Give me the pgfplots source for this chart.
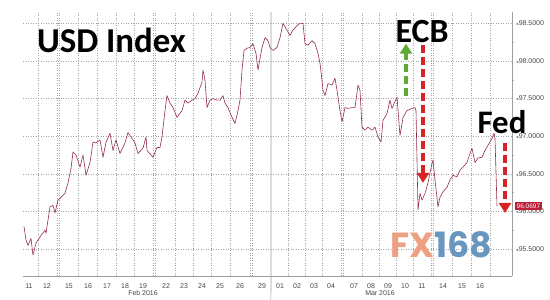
\documentclass[border=0pt]{standalone}
\usepackage{pgfplots}
\pgfplotsset{compat=1.18}
\usepackage{fontspec}
\setmainfont{Liberation Sans}
\newfontfamily\carlito{Carlito Bold}
\newfontfamily\dejavu{DejaVu Sans}
\newfontfamily\poppins{Poppins Bold}
\usetikzlibrary{arrows.meta}
\definecolor{linecol}{RGB}{150,45,70}
\definecolor{gridcol}{RGB}{165,165,165}
\definecolor{ecbgreen}{RGB}{95,170,55}
\definecolor{arrred}{RGB}{215,35,35}
\definecolor{boxred}{RGB}{190,30,55}
\definecolor{fxorange}{RGB}{238,160,130}
\definecolor{fxblue}{RGB}{105,150,190}
\definecolor{labcol}{RGB}{70,70,70}
\begin{document}
\begin{tikzpicture}
\useasboundingbox (0,0) rectangle (550bp,300bp);
\begin{axis}[
  at={(23bp,24bp)}, anchor=south west,
  scale only axis, width=489bp, height=264bp,
  xmin=23, xmax=512, ymin=95.14, ymax=98.65,
  axis x line*=bottom, axis y line*=right,
  axis line style={-, draw=gray!75, line width=0.6bp},
  clip=false,
  xtick={38,57,59,78.5,97.5,116,134,153.5,155.5,175,193,211,230,250,252,288.5,305.5,322.5,341.5,343.5,362.5,379.5,396.5,413.5,431.5,433.5,452.5,471,490},
  xticklabels={},
  xmajorgrids, ymajorgrids,
  major grid style={gridcol, line width=0.45bp, dash pattern=on 1bp off 1.5bp},
  x tick style={draw=none},
  extra x ticks={29,47,69,88,107,125,143,166,184,202,220,240,262,280,297,314,331,354,371,388,405,422,443,462,480},
  extra x tick labels={11,12,15,16,17,18,19,22,23,24,25,26,29,01,02,03,04,07,08,09,10,11,14,15,16},
  extra x tick style={grid=none, tick style={draw=none}},
  x tick label style={font=\fontsize{7}{8}\selectfont, text=labcol},
  ytick={95.5,96,96.5,97,97.5,98,98.5},
  minor y tick num=1,
  tick align=outside,
  major y tick style={draw=none},
  minor y tick style={draw=gray!70, line width=0.4bp},
  minor tick length=2bp,
  /pgf/number format/assume math mode=true,
  yticklabel={{\dejavu\fontsize{4}{4}\selectfont ▸}\pgfmathprintnumber[fixed,fixed zerofill,precision=4]{\tick}},
  y tick label style={font=\fontsize{7}{8}\selectfont, text=labcol, xshift=-3bp},
]
\node[inner sep=0, font=\poppins\fontsize{35}{35}\selectfont] at (axis cs:441,95.55) {\textcolor{fxorange}{FX}\textcolor{fxblue}{168}};
\draw[gray!75, line width=0.6bp] (axis cs:271,98.65) -- (axis cs:271,95.14) -- ++(0,-24bp);
\addplot[linecol, line width=0.6bp, line join=round] table[row sep=\\] {
t v\\
24 95.80\\ 26 95.62\\ 28 95.55\\ 31 95.64\\ 33 95.42\\ 36 95.58\\ 41 95.68\\ 45 95.75\\
46 95.71\\ 50 96.06\\ 53 96.08\\ 55 95.98\\ 58 96.15\\ 61 96.19\\ 65 96.24\\ 68 96.38\\
71 96.57\\ 73 96.79\\ 76 96.75\\ 80 96.59\\ 83 96.75\\ 86 96.48\\ 90 96.65\\ 93 96.92\\
96 96.91\\ 100 96.95\\ 103 96.72\\ 106 96.92\\ 110 97.04\\ 113 96.81\\ 116 96.95\\ 120 96.77\\
125 96.91\\ 128 97.05\\ 131 96.99\\ 135 96.91\\ 138 96.77\\ 143 96.84\\ 146 96.99\\ 147 96.81\\
153 96.72\\ 157 96.85\\ 160 96.85\\ 162 96.99\\ 165 97.34\\ 167 97.54\\ 170 97.44\\ 173 97.38\\
177 97.25\\ 182 97.34\\ 185 97.48\\ 188 97.44\\ 192 97.48\\ 195 97.50\\ 198 97.57\\ 202 97.72\\
203 97.88\\ 205 97.74\\ 207 97.38\\ 210 97.48\\ 213 97.50\\ 217 97.48\\ 220 97.48\\ 223 97.54\\
225 97.44\\ 228 97.38\\ 232 97.25\\ 235 97.17\\ 238 97.34\\ 240 97.48\\ 242 97.88\\ 244 98.14\\
247 98.17\\ 250 98.18\\ 253 98.23\\ 256 98.10\\ 258 97.88\\ 262 98.18\\ 265 98.31\\ 268 98.27\\
270 98.18\\ 273 98.14\\ 277 98.18\\ 280 98.31\\ 283 98.50\\ 287 98.41\\ 290 98.34\\ 293 98.41\\
297 98.47\\ 300 98.50\\ 303 98.50\\ 305 98.23\\ 308 98.21\\ 312 98.27\\ 315 98.23\\ 318 98.10\\
320 97.97\\ 322 97.74\\ 323 97.61\\ 325 97.54\\ 328 97.70\\ 332 97.68\\ 335 97.77\\ 337 97.61\\
340 97.34\\ 342 97.19\\ 345 97.38\\ 348 97.37\\ 352 97.38\\ 355 97.38\\ 358 97.68\\ 360 97.61\\
362 97.12\\ 365 97.08\\ 368 97.12\\ 372 97.08\\ 375 97.12\\ 378 96.99\\ 381 96.92\\ 383 97.21\\
387 97.30\\ 390 97.48\\ 392 97.37\\ 397 97.52\\ 400 97.01\\ 403 97.25\\ 407 97.34\\ 412 97.37\\
415 97.38\\ 416 97.34\\ 418 96.02\\ 420 96.24\\ 422 96.15\\ 425 96.24\\ 428 96.38\\ 432 96.64\\
433 96.68\\ 435 96.42\\ 438 96.06\\ 440 96.19\\ 443 96.26\\ 447 96.32\\ 450 96.42\\ 453 96.48\\
457 96.46\\ 460 96.55\\ 463 96.59\\ 467 96.65\\ 470 96.77\\ 472 96.84\\ 475 96.65\\ 478 96.71\\
482 96.72\\ 485 96.81\\ 488 96.88\\ 492 96.97\\ 494 97.04\\ 495 96.97\\ 497 96.07\\
};
\draw[ecbgreen, line width=4.5bp, dash pattern=on 8bp off 4bp, -{Triangle[width=12bp,length=10bp]}] (axis cs:406,97.54) -- (axis cs:406,98.23);
\draw[arrred, line width=4.5bp, dash pattern=on 8bp off 4bp, -{Triangle[width=12bp,length=10bp]}] (axis cs:423,98.21) -- (axis cs:423,96.38);
\draw[arrred, line width=4.5bp, dash pattern=on 8bp off 4bp, -{Triangle[width=12bp,length=10bp]}] (axis cs:505,96.91) -- (axis cs:505,95.98);
\node[inner sep=0, font=\carlito\fontsize{35}{35}\selectfont] at (axis cs:111.5,98.27) {USD Index};
\node[inner sep=0, font=\carlito\fontsize{34}{34}\selectfont] at (axis cs:422,98.39) {ECB};
\node[inner sep=0, font=\carlito\fontsize{33}{33}\selectfont] at (axis cs:502,97.19) {Fed};
\node[font=\fontsize{7}{8}\selectfont, text=labcol] at ([yshift=-17bp]axis cs:143,95.14) {Feb 2016};
\node[font=\fontsize{7}{8}\selectfont, text=labcol] at ([yshift=-17bp]axis cs:380,95.14) {Mar 2016};
\coordinate (boxpt) at (axis cs:512,96.0697);
\end{axis}
\node[fill=boxred, text=white, font=\fontsize{6.5}{7}\selectfont, inner xsep=1.5bp, inner ysep=1.3bp, anchor=west] at ([xshift=3bp]boxpt) {96.0697};
\end{tikzpicture}
\end{document}
